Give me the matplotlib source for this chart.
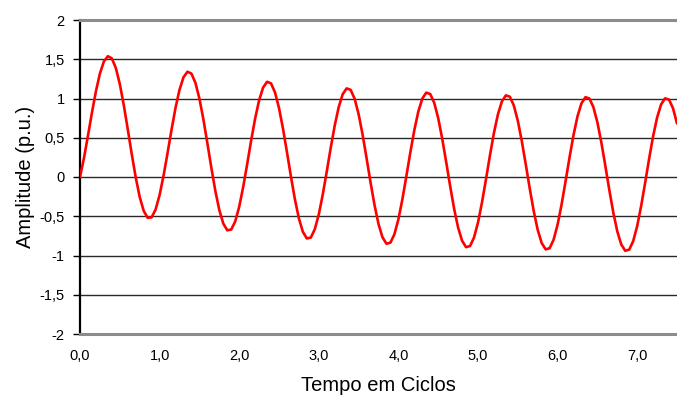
import numpy as np
import matplotlib
matplotlib.use("Agg")
import matplotlib.pyplot as plt
from matplotlib.ticker import FuncFormatter

# amplitude every 0.05 cycle (0,00 ... 7,50)
amplitude = [
    0.000, 0.243, 0.526, 0.819, 1.092, 1.317, 1.472, 1.539, 1.511, 1.389,
    1.185, 0.916, 0.609, 0.292, -0.005, -0.254, -0.431, -0.520, -0.514, -0.413,
    -0.229, 0.019, 0.306, 0.603, 0.881, 1.111, 1.270, 1.341, 1.317, 1.200,
    0.999, 0.735, 0.432, 0.118, -0.175, -0.420, -0.593, -0.679, -0.669, -0.566,
    -0.379, -0.128, 0.163, 0.464, 0.744, 0.977, 1.139, 1.213, 1.192, 1.077,
    0.879, 0.617, 0.316, 0.006, -0.285, -0.528, -0.699, -0.783, -0.771, -0.665,
    -0.476, -0.222, 0.070, 0.373, 0.655, 0.890, 1.054, 1.129, 1.110, 0.997,
    0.801, 0.541, 0.241, -0.068, -0.357, -0.598, -0.768, -0.850, -0.836, -0.729,
    -0.539, -0.284, 0.010, 0.314, 0.597, 0.833, 0.998, 1.075, 1.057, 0.945,
    0.750, 0.491, 0.193, -0.115, -0.404, -0.644, -0.812, -0.894, -0.879, -0.771,
    -0.580, -0.324, -0.030, 0.275, 0.560, 0.797, 0.962, 1.040, 1.023, 0.911,
    0.717, 0.459, 0.161, -0.146, -0.434, -0.673, -0.841, -0.922, -0.907, -0.798,
    -0.606, -0.350, -0.055, 0.250, 0.535, 0.773, 0.939, 1.017, 1.000, 0.889,
    0.696, 0.438, 0.141, -0.167, -0.454, -0.693, -0.860, -0.940, -0.925, -0.816,
    -0.624, -0.367, -0.072, 0.234, 0.520, 0.757, 0.924, 1.002, 0.986, 0.875,
    0.682,
]
tempo = np.arange(len(amplitude)) * 0.05

y_ticks = [-2, -1.5, -1, -0.5, 0, 0.5, 1, 1.5, 2]
x_ticks = [0, 1, 2, 3, 4, 5, 6, 7]

plt.rcParams['font.family'] = ['Liberation Sans', 'DejaVu Sans']

fig = plt.figure(figsize=(6.77, 3.96), dpi=100)
ax = fig.add_axes([80/677, 62/396, 597/677, 314/396])

ax.plot(tempo, amplitude, color='#ff0000', lw=1.9, zorder=3,
        solid_joinstyle='round', solid_capstyle='round')

ax.set_xlim(0, 7.5)
ax.set_ylim(-2, 2)
ax.set_yticks(y_ticks)
ax.set_xticks(x_ticks)
ax.yaxis.set_major_formatter(FuncFormatter(lambda v, p: ('%g' % v).replace('.', ',')))
ax.xaxis.set_major_formatter(FuncFormatter(lambda v, p: ('%.1f' % v).replace('.', ',')))
ax.tick_params(axis='y', length=5, width=1, pad=6, labelsize=10.5, color='black')
ax.tick_params(axis='x', length=0, pad=11, labelsize=10.5)

ax.yaxis.grid(True, color='#2a2a2a', lw=1)
ax.set_axisbelow(True)

ax.spines['right'].set_visible(False)
ax.spines['left'].set_color('black')
ax.spines['left'].set_linewidth(1.6)
ax.spines['top'].set_color('#8c8c8c')
ax.spines['top'].set_linewidth(2.2)
ax.spines['bottom'].set_color('#8c8c8c')
ax.spines['bottom'].set_linewidth(2.2)

ax.set_xlabel('Tempo em Ciclos', fontsize=14.5, labelpad=9)
ax.set_ylabel('Amplitude (p.u.)', fontsize=14.5, labelpad=3)

fig.savefig('out.png', dpi=100)
